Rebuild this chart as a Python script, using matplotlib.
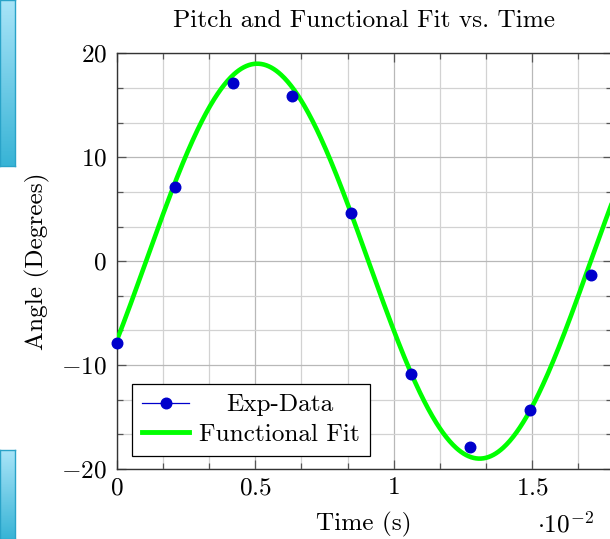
import numpy as np
import matplotlib
matplotlib.use("Agg")
import matplotlib.pyplot as plt
from matplotlib.colors import LinearSegmentedColormap
from matplotlib.lines import Line2D

plt.rcParams['font.family'] = ['cmr10', 'DejaVu Serif']
plt.rcParams['mathtext.fontset'] = 'cm'
plt.rcParams['axes.formatter.use_mathtext'] = True

# ---- data (time in seconds, angle in degrees) ----
time_s = [0.0, 0.002105, 0.00421, 0.00632, 0.00846, 0.01061, 0.01275, 0.01493, 0.01711]
angle_deg = [-7.84, 7.14, 17.12, 15.93, 4.64, -10.86, -17.85, -14.32, -1.33]

# functional fit parameters: A*sin(2*pi*f*(t - t0)) + c
fit_amp = 19.0
fit_freq = 62.3
fit_t0 = 0.00106
fit_offset = 0.0

x_ticks = [0.0, 0.005, 0.01, 0.015]
x_tick_labels = ['$0$', '$0.5$', '$1$', '$1.5$']
y_ticks = [-20, -10, 0, 10, 20]
y_tick_labels = ['$-20$', '$-10$', '$0$', '$10$', '$20$']

FS = 18.2
W, H = 610, 539
fig = plt.figure(figsize=(W / 100, H / 100), dpi=100)

# decorative side boxes seen at the left edge of the picture
grad = LinearSegmentedColormap.from_list('g', ['#a8e4f8', '#38b4d6'])
for (top, bot) in [(0, 166), (450, 539)]:
    bax = fig.add_axes([0, (H - bot) / H, 14.5 / W, (bot - top) / H])
    bax.imshow(np.linspace(0, 1, 100).reshape(-1, 1), aspect='auto', cmap=grad)
    bax.set_xticks([]); bax.set_yticks([])
    for s in bax.spines.values():
        s.set_color('#2aa3c8'); s.set_linewidth(1.0)

left_px, right_px, top_px, bot_px = 116.7, 611.5, 53.3, 469.0
ax = fig.add_axes([left_px / W, (H - bot_px) / H, (right_px - left_px) / W, (bot_px - top_px) / H])

t_fit = np.linspace(0, 0.01786, 600)
y_fit = fit_amp * np.sin(2 * np.pi * fit_freq * (t_fit - fit_t0)) + fit_offset

ax.plot(time_s, angle_deg, color='#0000cc', lw=0, marker='o', markersize=7.6,
        label='Exp-Data', zorder=4, clip_on=False)
ax.plot(t_fit, y_fit, color='#00ff00', lw=3.3, label='Functional Fit', zorder=3)

ax.set_xlim(0, 0.01786)
ax.set_ylim(-20, 20)
ax.set_xticks(x_ticks)
ax.set_xticklabels(x_tick_labels)
ax.set_yticks(y_ticks)
ax.set_yticklabels(y_tick_labels)
ax.set_xticks(np.arange(0, 0.0179, 0.005 / 3), minor=True)
ax.set_yticks(np.arange(-20, 20.01, 10 / 3), minor=True)

ax.grid(which='major', color='#b8b8b8', lw=0.9)
ax.grid(which='minor', color='#d2d2d2', lw=0.9)
ax.set_axisbelow(True)
ax.tick_params(which='both', direction='in', top=True, right=True, color='#555555',
               labelsize=FS, width=0.9)
ax.tick_params(which='major', length=6.5)
ax.tick_params(which='minor', length=4.5)
ax.tick_params(axis='y', pad=7)
ax.tick_params(axis='x', pad=6)
for s in ax.spines.values():
    s.set_color('#333333'); s.set_linewidth(1.0)

ax.set_title('Pitch and Functional Fit vs. Time', fontsize=FS, pad=19)
ax.set_xlabel('Time (s)', fontsize=FS, labelpad=9)
ax.set_ylabel('Angle (Degrees)', fontsize=FS, labelpad=8)
fig.text(565 / W, 1 - 525 / H, r'$\cdot 10^{-2}$', fontsize=FS, ha='center', va='center')

h1 = Line2D([], [], color='#0000cc', lw=0.9, marker='o', markersize=7.6)
h2 = Line2D([], [], color='#00ff00', lw=3.5)
leg = ax.legend([h1, h2], ['Exp-Data', 'Functional Fit'], loc='lower left',
                bbox_to_anchor=((132.3 - left_px) / (right_px - left_px), (bot_px - 456.3) / (bot_px - top_px)),
                borderaxespad=0, fontsize=FS, frameon=True, fancybox=False,
                edgecolor='black', framealpha=1, handlelength=1.85, handletextpad=0.4,
                labelspacing=0.28, borderpad=0.4)
leg.get_frame().set_linewidth(0.9)

fig.canvas.draw()
texts = leg.get_texts()
widths = [t.get_window_extent().width for t in texts]
mw = max(widths)
for t, w in zip(texts, widths):
    t.set_x((mw - w) / 2)

fig.savefig('out.png', dpi=100)
